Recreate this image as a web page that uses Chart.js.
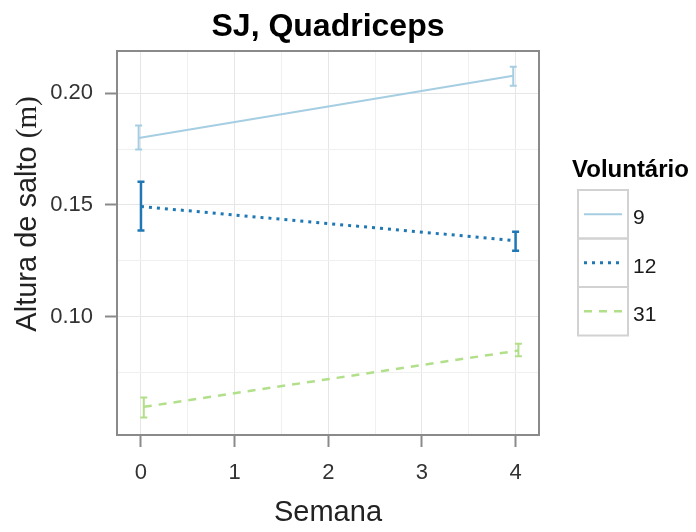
<!DOCTYPE html>
<html>
<head>
<meta charset="utf-8">
<title>SJ, Quadriceps</title>
<script src="https://cdn.jsdelivr.net/npm/chart.js@4.4.1/dist/chart.umd.min.js"></script>
<style>
  html, body { margin: 0; padding: 0; background: #fff; }
  #wrap { position: relative; width: 696px; height: 532px; }
</style>
</head>
<body>
<div id="wrap"><canvas id="chart_sj"></canvas></div>
<script>
// ----------------------- data -----------------------

const weeks = [0, 4];
const volunteers = ["9", "12", "31"];

const jump9 = [0.1800, 0.2078];
const jump9Low = [0.1748, 0.2033];
const jump9High = [0.1855, 0.2118];

const jump12 = [0.1493, 0.1340];
const jump12Low = [0.1386, 0.1295];
const jump12High = [0.1604, 0.1380];

const jump31 = [0.0596, 0.0848];
const jump31Low = [0.0548, 0.0822];
const jump31High = [0.0638, 0.0878];

// small horizontal dodge so the error bars don't overlap
const dodge = [-0.025, 0, 0.03];

const xMajor = [0, 1, 2, 3, 4];
const xMinor = [0.5, 1.5, 2.5, 3.5];
const yMajor = [0.10, 0.15, 0.20];
const yMinor = [0.075, 0.125, 0.175];

// ----------------------- helpers -----------------------

const FONT = '"Liberation Sans", Arial, sans-serif';
const SERIF = '"Liberation Serif", "Times New Roman", serif';

function toPoints(vals, off) {
    return weeks.map((w, i) => ({ x: w + off, y: vals[i] }));
}

function isMajor(list, v) {
    return list.some(m => Math.abs(m - v) < 1e-9);
}

const series = [
    { mid: jump9, low: jump9Low, high: jump9High, color: "#a6cee3", dash: [], width: 2, barWidth: 2 },
    { mid: jump12, low: jump12Low, high: jump12High, color: "#1f78b4", dash: [3, 5], width: 3, barWidth: 2.5 },
    { mid: jump31, low: jump31Low, high: jump31High, color: "#b2df8a", dash: [8, 7], width: 2.5, barWidth: 2 },
];

// ----------------------- plugins -----------------------

const errorBars = {
    id: "errorBars",
    afterDatasetsDraw(chart) {
        const { ctx, chartArea, scales } = chart;
        ctx.save();
        ctx.beginPath();
        ctx.rect(chartArea.left, chartArea.top, chartArea.right - chartArea.left, chartArea.bottom - chartArea.top);
        ctx.clip();
        series.forEach((s, si) => {
            ctx.strokeStyle = s.color;
            ctx.lineWidth = s.barWidth;
            ctx.setLineDash([]);
            weeks.forEach((w, i) => {
                const x = scales.x.getPixelForValue(w + dodge[si]);
                const y1 = scales.y.getPixelForValue(s.low[i]);
                const y2 = scales.y.getPixelForValue(s.high[i]);
                ctx.beginPath();
                ctx.moveTo(x, y1); ctx.lineTo(x, y2);
                ctx.moveTo(x - 3.5, y1); ctx.lineTo(x + 3.5, y1);
                ctx.moveTo(x - 3.5, y2); ctx.lineTo(x + 3.5, y2);
                ctx.stroke();
            });
        });
        ctx.restore();
    }
};

const panelDecor = {
    id: "panelDecor",
    afterDraw(chart) {
        const { ctx, chartArea } = chart;
        ctx.save();

        // panel border
        ctx.strokeStyle = "#8a8a8a";
        ctx.lineWidth = 2;
        ctx.strokeRect(chartArea.left, chartArea.top, chartArea.right - chartArea.left, chartArea.bottom - chartArea.top);

        // title, centred on the panel
        ctx.fillStyle = "#000";
        ctx.font = "bold 32px " + FONT;
        ctx.textAlign = "center";
        ctx.textBaseline = "alphabetic";
        ctx.fillText("SJ, Quadriceps", (chartArea.left + chartArea.right) / 2, 36);

        // y axis title: sans part + serif unit
        const partA = "Altura de salto ";
        const partB = "(m)";
        ctx.font = "29px " + FONT;
        const wA = ctx.measureText(partA).width;
        ctx.font = "29px " + SERIF;
        const wB = ctx.measureText(partB).width;
        ctx.translate(36, 214);
        ctx.rotate(-Math.PI / 2);
        ctx.textAlign = "left";
        ctx.fillStyle = "#222";
        const x0 = -(wA + wB) / 2;
        ctx.font = "29px " + FONT;
        ctx.fillText(partA, x0, 0);
        ctx.font = "29px " + SERIF;
        ctx.fillText(partB, x0 + wA, 0);
        ctx.restore();

        // legend
        ctx.save();
        ctx.fillStyle = "#000";
        ctx.font = "bold 24px " + FONT;
        ctx.textAlign = "left";
        ctx.fillText("Voluntário", 572, 177);
        const boxX = 578, boxW = 50, boxH = 48.5, boxY = 190;
        chart.data.datasets.forEach((ds, i) => {
            const top = boxY + i * boxH;
            const cy = top + boxH / 2;
            ctx.strokeStyle = "#d2d2d2";
            ctx.lineWidth = 2;
            ctx.setLineDash([]);
            ctx.strokeRect(boxX, top, boxW, boxH);
            ctx.strokeStyle = ds.borderColor;
            ctx.lineWidth = ds.borderWidth;
            ctx.setLineDash(ds.borderDash);
            ctx.beginPath();
            ctx.moveTo(boxX + 6, cy);
            ctx.lineTo(boxX + boxW - 6, cy);
            ctx.stroke();
            ctx.setLineDash([]);
            ctx.fillStyle = "#1a1a1a";
            ctx.font = "21px " + FONT;
            ctx.fillText(ds.label, boxX + boxW + 5, cy + 10);
        });
        ctx.restore();
    }
};

// ----------------------- chart -----------------------

const datasets = series.map((s, i) => ({
    label: volunteers[i],
    data: toPoints(s.mid, dodge[i]),
    borderColor: s.color,
    backgroundColor: s.color,
    borderWidth: s.width,
    borderDash: s.dash,
    borderCapStyle: "butt",
    pointRadius: 0,
    tension: 0,
    fill: false,
}));

new Chart(document.getElementById("chart_sj"), {
    type: "line",
    data: { datasets: datasets },
    options: {
        responsive: true,
        maintainAspectRatio: false,
        animation: false,
        layout: { padding: { top: 51, right: 157, bottom: 0, left: 0 } },
        plugins: {
            legend: { display: false },
            title: { display: false },
            tooltip: { enabled: false },
        },
        scales: {
            x: {
                type: "linear",
                min: -0.256,
                max: 4.25,
                afterFit: s => { s.height = 97; },
                afterBuildTicks: s => {
                    s.ticks = xMajor.concat(xMinor).sort((a, b) => a - b).map(v => ({ value: v }));
                },
                border: { display: false },
                grid: {
                    color: c => isMajor(xMajor, c.tick.value) ? "#e6e6e6" : "#f0f0f0",
                    tickColor: c => isMajor(xMajor, c.tick.value) ? "#8a8a8a" : "rgba(0,0,0,0)",
                    tickLength: 12,
                    tickWidth: 2,
                },
                ticks: {
                    autoSkip: false,
                    maxRotation: 0,
                    padding: 13,
                    color: "#333",
                    font: { family: FONT, size: 22 },
                    callback: v => isMajor(xMajor, v) ? String(v) : "",
                },
                title: {
                    display: true,
                    text: "Semana",
                    color: "#222",
                    font: { family: FONT, size: 29 },
                    padding: { top: 0, bottom: 2 },
                },
            },
            y: {
                type: "linear",
                min: 0.0470,
                max: 0.2189,
                afterFit: s => { s.width = 117; },
                afterBuildTicks: s => {
                    s.ticks = yMajor.concat(yMinor).sort((a, b) => a - b).map(v => ({ value: v }));
                },
                border: { display: false },
                grid: {
                    color: c => isMajor(yMajor, c.tick.value) ? "#e6e6e6" : "#f0f0f0",
                    tickColor: c => isMajor(yMajor, c.tick.value) ? "#8a8a8a" : "rgba(0,0,0,0)",
                    tickLength: 12,
                    tickWidth: 2,
                },
                ticks: {
                    autoSkip: false,
                    padding: 12,
                    color: "#333",
                    font: { family: FONT, size: 22 },
                    callback: v => isMajor(yMajor, v) ? v.toFixed(2) : "",
                },
            },
        },
    },
    plugins: [errorBars, panelDecor],
});
</script>
</body>
</html>
